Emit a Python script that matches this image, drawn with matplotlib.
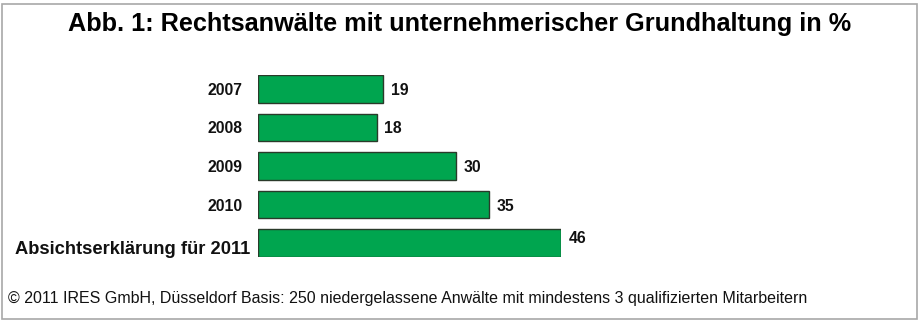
import matplotlib.pyplot as plt
from matplotlib.patches import Rectangle

labels = ["2007", "2008", "2009", "2010", "Absichtserklärung für 2011"]
values = [19, 18, 30, 35, 46]

title = "Abb. 1: Rechtsanwälte mit unternehmerischer Grundhaltung in %"
footer = ("© 2011 IRES GmbH, Düsseldorf Basis: 250 niedergelassene Anwälte "
          "mit mindestens 3 qualifizierten Mitarbeitern")

W, H = 920, 322
fig = plt.figure(figsize=(W / 100, H / 100), dpi=100)
fig.patch.set_facecolor("white")

# grey frame around the whole figure
fig.add_artist(Rectangle((2 / W, 3 / H), (W - 5) / W, (H - 7) / H,
                         transform=fig.transFigure, fill=False,
                         edgecolor="#a8a8a8", linewidth=1.2))

fig.text(0.5, 1 - 24 / H, title, ha="center", va="center",
         fontsize=18.2, fontweight="bold", family="Liberation Sans")
fig.text(8 / W, 1 - 298 / H, footer, ha="left", va="center",
         fontsize=11.5, family="Liberation Sans", color="#111111")

# axes placed so bars start at x=258px and 46 ends near 561px
ax = fig.add_axes([258 / W, (H - 257) / H, 303 / W, 182 / H])
ax.set_xlim(0, 46)
ax.set_ylim(len(values) - 1 + 0.357, -0.357)
ax.axis("off")

ypos = list(range(len(values)))
ax.barh(ypos, values, height=0.714, color="#00a54f",
        edgecolor="#2a3a2a", linewidth=1.0)

for y, v, lab in zip(ypos, values, labels):
    dy = -0.15 if v == max(values) else 0.0
    ax.text(v + 1.2, y + dy, str(v), ha="left", va="center_baseline",
            fontsize=11.3, fontweight="bold", family="Liberation Sans",
            color="#111111")
    if lab.isdigit():
        ax.text(-2.4, y, lab, ha="right", va="center_baseline", fontsize=11.3,
                fontweight="bold", family="Liberation Sans", color="#111111")
    else:
        ax.text(-1.2, y + 0.12, lab, ha="right", va="center_baseline",
                fontsize=13.2, fontweight="bold", family="Liberation Sans",
                color="#111111")

fig.savefig("out.png", dpi=100)
